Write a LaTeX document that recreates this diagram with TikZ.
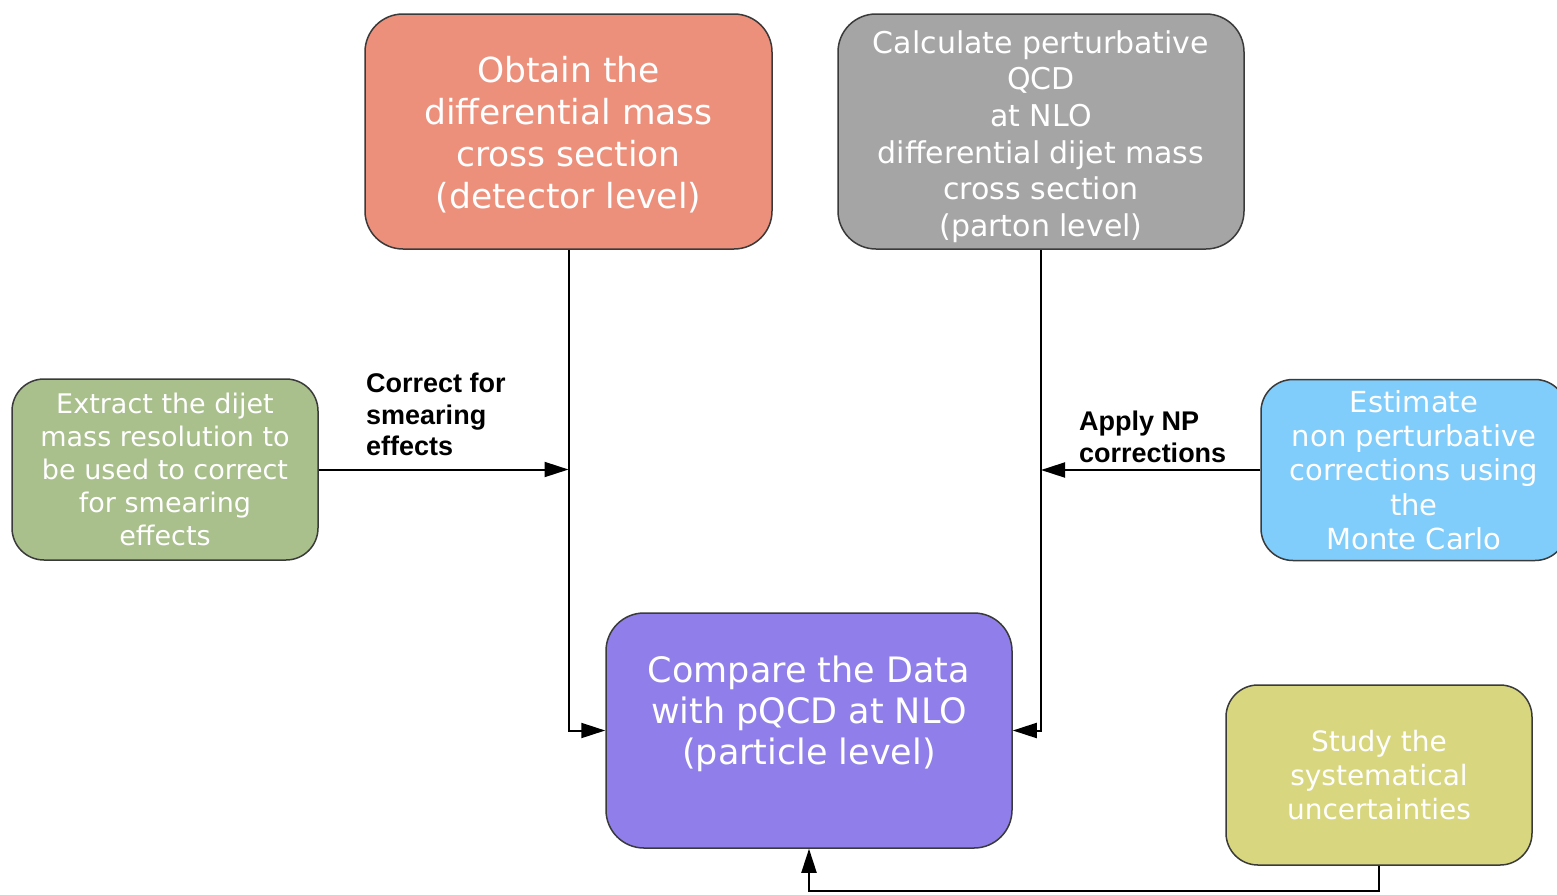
\documentclass[tikz,border=0pt]{standalone}
\usepackage{fontspec}
\setmainfont{DejaVu Sans}
\newfontfamily\labfont{Liberation Sans}
\usetikzlibrary{arrows.meta}
\definecolor{cred}{HTML}{EC907C}
\definecolor{cgray}{HTML}{A5A5A5}
\definecolor{cgreen}{HTML}{A9BF8C}
\definecolor{cblue}{HTML}{80CCFA}
\definecolor{cpurple}{HTML}{907FEA}
\definecolor{colive}{HTML}{D8D77F}
\definecolor{boxline}{HTML}{3A3A3A}
\begin{document}
\begin{tikzpicture}[x=1pt,y=-1pt,
  box/.style={draw=boxline, line width=1.5pt, rounded corners=38pt, inner sep=0pt, align=center, text=white},
  boxtext/.style={inner sep=0pt, align=center, text=white},
  conn/.style={line width=2pt, -{Triangle[length=24pt,width=15pt]}},
  lab/.style={inner sep=0pt, align=left, anchor=north west, font=\labfont\bfseries\fontsize{27}{31.5}\selectfont, text=black}]
\useasboundingbox (0,0) rectangle (1557,894);
\clip (0,0) rectangle (1557,894);
\fill[white] (0,0) rectangle (1557,894);

\node[box, fill=cred, minimum width=407pt, minimum height=235pt] (obtain) at (568.5,131.5) {};
\node[boxtext, font=\fontsize{34.5}{42}\selectfont] (obtaintext) at (568.5,134.5) {Obtain the\\differential mass\\cross section\\(detector level)};
\node[box, fill=cgray, minimum width=406pt, minimum height=235pt] (calc) at (1041,131.5) {};
\node[boxtext, font=\fontsize{30}{36.6}\selectfont] (calctext) at (1041,136.5) {Calculate perturbative\\QCD\\at NLO\\differential dijet mass\\cross section\\(parton level)};
\node[box, fill=cgreen, minimum width=306pt, minimum height=181pt, rounded corners=32pt, font=\fontsize{27}{33}\selectfont] (extract) at (165,469.5) {Extract the dijet\\mass resolution to\\be used to correct\\for smearing\\effects};
\node[box, fill=cblue, minimum width=306pt, minimum height=181pt, rounded corners=32pt, font=\fontsize{29}{34.3}\selectfont] (estimate) at (1414,470) {Estimate\\non perturbative\\corrections using\\the\\Monte Carlo};
\node[box, fill=cpurple, minimum width=406pt, minimum height=235pt] (compare) at (809,730.5) {};
\node[boxtext, font=\fontsize{35}{41}\selectfont] (comparetext) at (809,713.5) {Compare the Data\\with pQCD at NLO\\(particle level)};
\node[box, fill=colive, minimum width=306pt, minimum height=180pt, rounded corners=32pt, font=\fontsize{28}{34}\selectfont] (study) at (1379,775) {Study the\\systematical\\uncertainties};

\coordinate (bottomline) at (0,891);
\draw[conn] (obtain.south) |- (compare.west);
\draw[conn] (calc.south) |- (compare.east);
\draw[conn] (extract.east) -- (extract.east -| obtain.south);
\draw[conn] (estimate.west) -- (estimate.west -| calc.south);
\draw[conn] (study.south) -- (study.south |- bottomline) -| (compare.south);

\node[lab] (corrlab) at (366,373) {Correct for\\smearing\\effects};
\node[lab] (nplab) at (1079,411) {Apply NP\\corrections};
\end{tikzpicture}
\end{document}
